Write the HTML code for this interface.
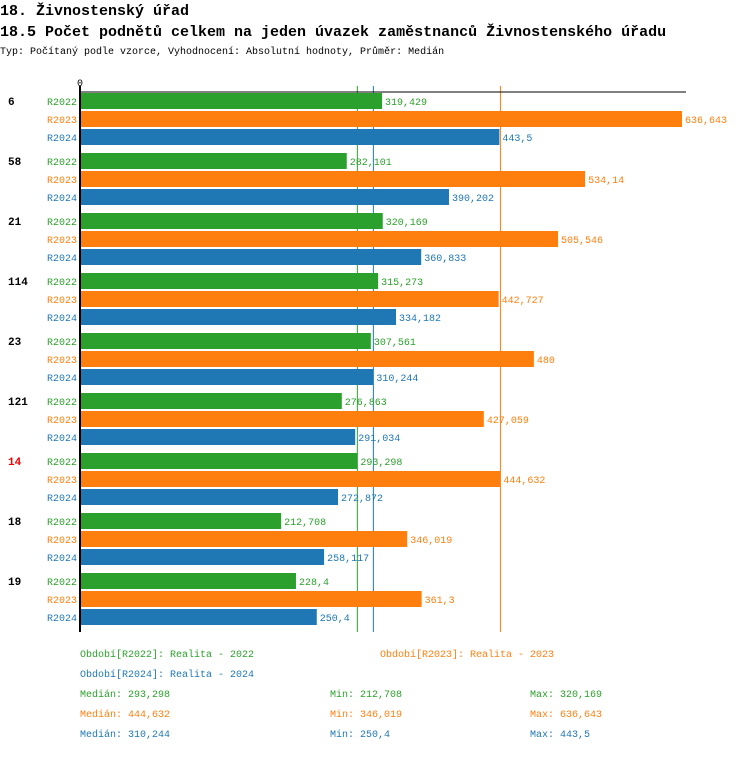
<!DOCTYPE html>
<html><head><meta charset="utf-8"><style>
body{margin:0;background:#fff;width:750px;height:752px;overflow:hidden;font-family:"Liberation Mono",monospace}
svg text{font-family:"Liberation Mono",monospace}
</style></head><body>
<svg id="c" width="750" height="752">
<text x="0" y="15" font-size="15" font-weight="bold">18. Živnostenský úřad</text>
<text x="0" y="36" font-size="15" font-weight="bold">18.5 Počet podnětů celkem na jeden úvazek zaměstnanců Živnostenského úřadu</text>
<text x="0" y="54" font-size="10">Typ: Počítaný podle vzorce, Vyhodnocení: Absolutní hodnoty, Průměr: Medián</text>
<text x="77" y="86" font-size="10">0</text>
<g id="bars"></g>
<g id="legend" font-size="10"></g>
</svg>
<script>
const groups=["6","58","21","114","23","121","14","18","19"];
const series=["R2022","R2023","R2024"];
const v2022=[319.429,282.101,320.169,315.273,307.561,276.863,293.298,212.708,228.4];
const v2023=[636.643,534.14,505.546,442.727,480,427.059,444.632,346.019,361.3];
const v2024=[443.5,390.202,360.833,334.182,310.244,291.034,272.872,258.117,250.4];
const medians=[293.298,444.632,310.244];
const colors=["#2ca02c","#ff7f0e","#1f77b4"];
const vals=[v2022,v2023,v2024];
const NS="http://www.w3.org/2000/svg";
const x0=80,sc=602/636.643,top0=92,gh=60;
const X=v=>x0+v*sc;
const g=document.getElementById('bars');
function mk(t,a,p){const e=document.createElementNS(NS,t);for(const k in a)e.setAttribute(k,a[k]);(p||g).appendChild(e);return e;}
const fmt=v=>String(v).replace('.',',');
const bottom=top0+gh*groups.length;
medians.forEach((m,j)=>{
  const ln=mk('line',{x1:X(m),x2:X(m),y1:86,y2:bottom,stroke:colors[j],'stroke-width':1});
  
  
});
groups.forEach((gn,i)=>{
  const gy=top0+gh*i;
  const t=mk('text',{x:8,y:gy+13,'font-size':11,'font-weight':'bold',fill:gn==="14"?"#e00":"#000"});t.textContent=gn;
  
  
  series.forEach((s,j)=>{
    const y=gy+18*j+1,v=vals[j][i];
    const l=mk('text',{x:77,y:y+12,'font-size':10,fill:colors[j],'text-anchor':'end'});l.textContent=s;
    
    
    const r=mk('rect',{x:x0,y:y,width:X(v)-x0,height:16,fill:colors[j]});
    
    
    const vl=mk('text',{x:X(v)+3,y:y+12,'font-size':10,fill:colors[j]});vl.textContent=fmt(v);
    
    
  });
});
const ax=mk('line',{x1:x0,x2:x0,y1:86,y2:bottom,stroke:'#000','stroke-width':2});


const ax2=mk('line',{x1:x0,x2:686,y1:92,y2:92,stroke:'#000','stroke-width':1});


const lg=document.getElementById('legend');
const items=[
 [80,657,0,"Období[R2022]: Realita - 2022"],[380,657,1,"Období[R2023]: Realita - 2023"],
 [80,677,2,"Období[R2024]: Realita - 2024"]];
items.forEach(it=>{const t=mk('text',{x:it[0],y:it[1],fill:colors[it[2]]},lg);t.textContent=it[3];
 
 });
const mins=[212.708,346.019,250.4],maxs=[320.169,636.643,443.5];
[0,1,2].forEach(j=>{const y=697+20*j;
 [[80,"Medián: "+fmt(medians[j])],[330,"Min: "+fmt(mins[j])],[530,"Max: "+fmt(maxs[j])]].forEach(c=>{
  const t=mk('text',{x:c[0],y:y,fill:colors[j]},lg);t.textContent=c[1];
  
  });
});
</script>
</body></html>
